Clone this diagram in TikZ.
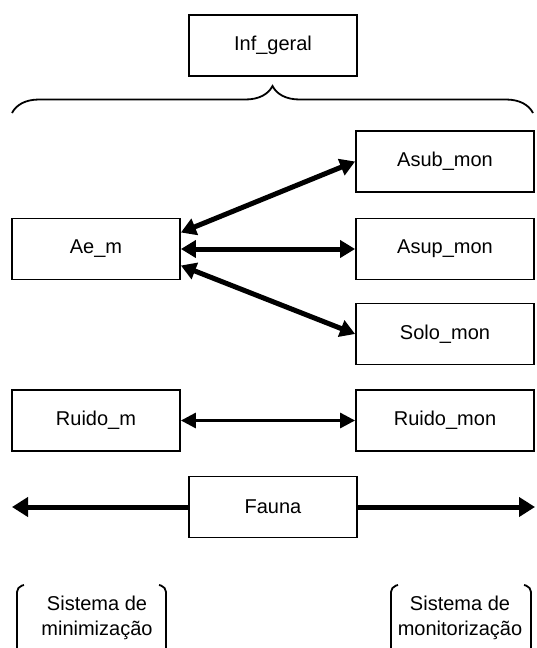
\documentclass[tikz,border=0pt]{standalone}
\usepackage{fontspec}
\setmainfont{Liberation Sans}
\usetikzlibrary{arrows.meta,decorations.pathreplacing}

\begin{document}
\begin{tikzpicture}[x=1pt, y=-1pt, line width=1.8pt, font=\fontsize{20}{25}\selectfont,
    box/.style={draw, minimum width=168pt, minimum height=61pt, inner sep=0pt},
    monbox/.style={box, minimum width=178pt},
    bigarrow/.style={{Triangle[length=15pt,width=17pt]}-{Triangle[length=15pt,width=17pt]}, line width=5pt},
    lightarrow/.style={{Triangle[length=15pt,width=15pt]}-{Triangle[length=15pt,width=15pt]}, line width=3pt},
    onearrow/.style={-{Triangle[length=16pt,width=19pt]}, line width=5pt}]
  \useasboundingbox (0,0) rectangle (536,648);
  % boxes
  \node[box] (inf) at (273,45.5) {Inf\_geral};
  \node[box] (ae) at (96,249) {Ae\_m};
  \node[monbox] (asub) at (445,161.5) {Asub\_mon};
  \node[monbox] (asup) at (445,249) {Asup\_mon};
  \node[monbox] (solo) at (445,334) {Solo\_mon};
  \node[box] (ruidom) at (96,420.5) {Ruido\_m};
  \node[monbox] (ruidomon) at (445,420.5) {Ruido\_mon};
  \node[box] (fauna) at (273,507) {Fauna};
  \coordinate (fl) at (12,507);
  \coordinate (fr) at (535,507);
  % brace under Inf_geral
  \coordinate (bl) at (12,113);
  \coordinate (br) at (533,113);
  \draw[decorate, decoration={brace, amplitude=27pt}] (bl) -- (br);
  % arrows
  \draw[bigarrow] (ae.11) -- (asub.west);
  \draw[bigarrow] (ae.east) -- (asup.west);
  \draw[bigarrow] (ae.-11) -- (solo.west);
  \draw[lightarrow] (ruidom) -- (ruidomon);
  \draw[onearrow] (fauna) -- (fl);
  \draw[onearrow] (fauna) -- (fr);
  % systems
  \node[align=center] (sysmin) at (97,618) {Sistema de\\minimização};
  \node[align=center] (sysmon) at (460,618) {Sistema de\\monitorização};
  \draw[rounded corners=5pt] (24,585) -- (17,587) -- (17,650);
  \draw[rounded corners=5pt] (159,585) -- (166,587) -- (166,650);
  \draw[rounded corners=5pt] (398,585) -- (391,587) -- (391,650);
  \draw[rounded corners=5pt] (524,585) -- (531,587) -- (531,650);
\end{tikzpicture}
\end{document}
